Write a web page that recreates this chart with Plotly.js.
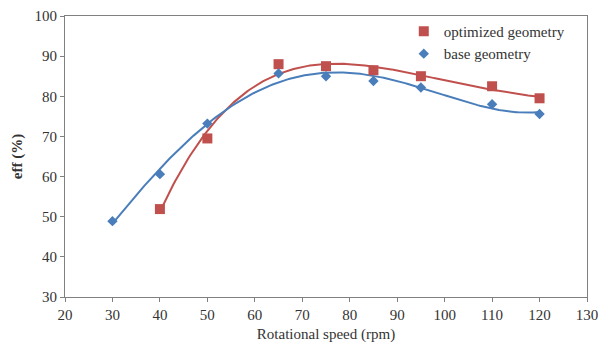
<!DOCTYPE html>
<html><head><meta charset="utf-8">
<script src="https://cdn.plot.ly/plotly-3.0.1.min.js"></script>
<style>html,body{margin:0;padding:0;background:#fff}#c{width:599px;height:347px}</style>
</head><body><div id="c"></div>
<script>
const baseSpeed = [30, 40, 50, 65, 75, 85, 95, 110, 120];
const baseEff = [48.9, 60.6, 73.2, 85.7, 85.0, 83.8, 82.2, 78.0, 75.6];
const optSpeed = [40, 50, 65, 75, 85, 95, 110, 120];
const optEff = [51.9, 69.5, 88.0, 87.5, 86.5, 85.0, 82.5, 79.5];
const xTicks = [20, 30, 40, 50, 60, 70, 80, 90, 100, 110, 120, 130];
const yTicks = [30, 40, 50, 60, 70, 80, 90, 100];

// least-squares polynomial trendline (like a spreadsheet trendline)
function polyfit(xs, ys, order) {
  const n = order + 1;
  const A = Array.from({length: n}, () => new Array(n + 1).fill(0));
  for (let k = 0; k < xs.length; k++) {
    const x = xs[k] / 100;
    for (let i = 0; i < n; i++) {
      for (let j = 0; j < n; j++) A[i][j] += Math.pow(x, i + j);
      A[i][n] += ys[k] * Math.pow(x, i);
    }
  }
  for (let i = 0; i < n; i++) {
    let p = i;
    for (let r = i + 1; r < n; r++) if (Math.abs(A[r][i]) > Math.abs(A[p][i])) p = r;
    [A[i], A[p]] = [A[p], A[i]];
    for (let r = 0; r < n; r++) {
      if (r === i) continue;
      const f = A[r][i] / A[i][i];
      for (let c = i; c <= n; c++) A[r][c] -= f * A[i][c];
    }
  }
  const coef = A.map((row, i) => row[n] / row[i]);
  return x => coef.reduce((s, c, i) => s + c * Math.pow(x / 100, i), 0);
}
function trend(xs, ys, order) {
  const f = polyfit(xs, ys, order);
  const tx = [], ty = [];
  const x0 = xs[0], x1 = xs[xs.length - 1];
  for (let i = 0; i <= 200; i++) { const x = x0 + (x1 - x0) * i / 200; tx.push(x); ty.push(f(x)); }
  return {tx, ty};
}
const red = '#c0504d', blue = '#4a7ebb';
const tb = trend(baseSpeed, baseEff, 4);
const to = trend(optSpeed, optEff, 4);

const data = [
  {x: to.tx, y: to.ty, mode: 'lines', line: {color: red, width: 2}, showlegend: false, hoverinfo: 'skip'},
  {x: tb.tx, y: tb.ty, mode: 'lines', line: {color: blue, width: 2}, showlegend: false, hoverinfo: 'skip'},
  {x: optSpeed, y: optEff, mode: 'markers', name: 'optimized geometry',
   marker: {symbol: 'square', size: 10, color: red}},
  {x: baseSpeed, y: baseEff, mode: 'markers', name: 'base geometry',
   marker: {symbol: 'diamond', size: 8, color: blue}}
];
const layout = {
  width: 599, height: 347,
  margin: {l: 65, r: 12, t: 16, b: 50},
  paper_bgcolor: '#fff', plot_bgcolor: '#fff',
  font: {family: 'Times New Roman, Liberation Serif, serif', size: 15, color: '#333'},
  xaxis: {range: [20, 130], tickvals: xTicks, ticks: 'outside', ticklen: 4, tickcolor: '#808080',
          showline: true, linecolor: '#808080', linewidth: 1, mirror: true, showgrid: false, zeroline: false,
          tickfont: {size: 15},
          title: {text: 'Rotational speed (rpm)', font: {size: 15, color: '#333'}, standoff: 6}},
  yaxis: {range: [30, 100], tickvals: yTicks, ticks: 'outside', ticklen: 4, tickcolor: '#808080',
          showline: true, linecolor: '#808080', linewidth: 1, mirror: true, showgrid: false, zeroline: false,
          tickfont: {size: 15},
          title: {text: '<b>eff (%)</b>', font: {size: 15, color: '#333'}, standoff: 8}},
  legend: {x: 0.649, y: 1.004, xanchor: 'left', yanchor: 'top', bgcolor: 'rgba(0,0,0,0)',
           font: {size: 15, color: '#333'}, itemwidth: 30, tracegroupgap: 0},
  showlegend: true
};
Plotly.newPlot('c', data, layout, {displayModeBar: false, staticPlot: true});
</script></body></html>
